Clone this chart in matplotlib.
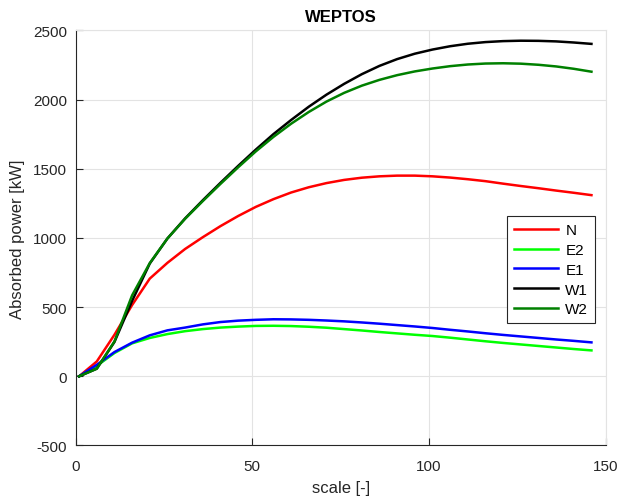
import matplotlib
matplotlib.use("Agg")
import matplotlib.pyplot as plt

plt.rcParams['font.family'] = ['Liberation Sans', 'DejaVu Sans']
plt.rcParams['axes.unicode_minus'] = False

scale = [1, 6, 11, 16, 21, 26, 31, 36, 41, 46, 51, 56, 61, 66, 71, 76, 81, 86, 91, 96,
         101, 106, 111, 116, 121, 126, 131, 136, 141, 146]

N = [0, 107, 300, 515, 706, 820, 920, 1005, 1085, 1158, 1224, 1280, 1328, 1366, 1396,
     1419, 1435, 1445, 1450, 1450, 1445, 1436, 1424, 1410, 1392, 1375, 1359, 1342, 1326, 1309]
E2 = [0, 75, 168, 238, 277, 305, 326, 341, 352, 359, 364, 365, 363, 358, 351,
      341, 331, 320, 310, 300, 291, 279, 266, 253, 241, 230, 219, 208, 197, 187]
E1 = [0, 83, 175, 243, 296, 332, 352, 375, 392, 402, 408, 412, 411, 408, 403,
      397, 389, 380, 370, 360, 349, 336, 324, 311, 299, 288, 277, 266, 256, 245]
W1 = [0, 55, 248, 545, 815, 996, 1141, 1272, 1398, 1520, 1638, 1750, 1852, 1948, 2035,
      2113, 2183, 2243, 2292, 2331, 2361, 2385, 2403, 2415, 2422, 2425, 2424, 2420, 2412, 2402]
W2 = [0, 55, 252, 585, 818, 996, 1138, 1266, 1390, 1510, 1625, 1730, 1825, 1910, 1985,
      2048, 2100, 2142, 2176, 2203, 2224, 2241, 2253, 2260, 2262, 2259, 2251, 2239, 2222, 2201]

series_names = ['N', 'E2', 'E1', 'W1', 'W2']
series_values = [N, E2, E1, W1, W2]
series_colors = ['#ff0000', '#00ff00', '#0000ff', '#000000', '#008000']

xticks = [0, 50, 100, 150]
yticks = [-500, 0, 500, 1000, 1500, 2000, 2500]

fig = plt.figure(figsize=(6.17, 5.02), dpi=100)
ax = fig.add_axes([0.1225, 0.1106, 0.859, 0.827])

for name, vals, col in zip(series_names, series_values, series_colors):
    ax.plot(scale, vals, color=col, lw=1.8, label=name)

ax.set_xlim(0, 150)
ax.set_ylim(-500, 2500)
ax.set_xticks(xticks)
ax.set_yticks(yticks)
ax.grid(True, color='#e3e3e3', lw=0.8)
ax.set_axisbelow(True)

dark = '#262626'
for s in ['left', 'bottom']:
    ax.spines[s].set_color(dark)
    ax.spines[s].set_linewidth(0.8)
for s in ['top', 'right']:
    ax.spines[s].set_color('#e3e3e3')
    ax.spines[s].set_linewidth(0.8)
ax.tick_params(direction='in', length=5, width=0.8, colors=dark, labelsize=11,
               top=False, right=False)
ax.tick_params(axis='x', pad=10)
ax.tick_params(axis='y', pad=6)

ax.set_xlabel('scale [-]', fontsize=12, color=dark, labelpad=5)
ax.set_ylabel('Absorbed power [kW]', fontsize=12, color=dark, labelpad=6)
ax.set_title('WEPTOS', fontsize=12, fontweight='bold', pad=7)

leg = ax.legend(loc='upper left', bbox_to_anchor=(0.8145, 0.552), borderaxespad=0,
                fontsize=11, handlelength=2.9, handletextpad=0.45, labelspacing=0.38,
                borderpad=0.45, fancybox=False, framealpha=1, edgecolor=dark)
leg.get_frame().set_linewidth(0.8)

fig.savefig('out.png', dpi=100)
